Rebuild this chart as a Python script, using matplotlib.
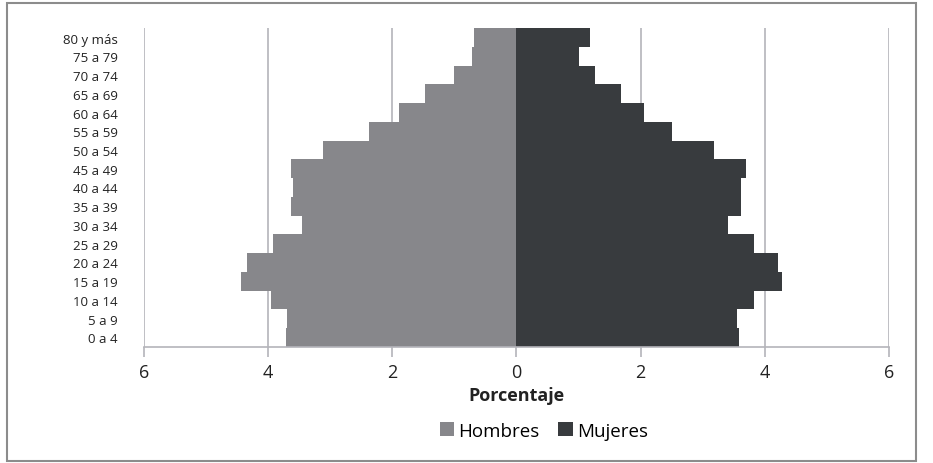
import matplotlib.pyplot as plt
from matplotlib.patches import Rectangle
import numpy as np

plt.rcParams['font.family'] = ['Open Sans', 'DejaVu Sans']

grupos = ['0 a 4', '5 a 9', '10 a 14', '15 a 19', '20 a 24', '25 a 29', '30 a 34',
          '35 a 39', '40 a 44', '45 a 49', '50 a 54', '55 a 59', '60 a 64',
          '65 a 69', '70 a 74', '75 a 79', '80 y más']
hombres = [3.72, 3.69, 3.95, 4.43, 4.34, 3.92, 3.46, 3.63, 3.60, 3.63,
           3.11, 2.38, 1.89, 1.47, 1.01, 0.72, 0.68]
mujeres = [3.58, 3.55, 3.82, 4.28, 4.21, 3.82, 3.41, 3.62, 3.62, 3.69,
           3.18, 2.51, 2.05, 1.69, 1.26, 1.01, 1.18]
ticks = [-6, -4, -2, 0, 2, 4, 6]

c_h = '#87878b'
c_m = '#383b3e'
c_grid = '#b4b4ba'

fig = plt.figure(figsize=(9.33, 4.64), dpi=100)
ax = fig.add_axes([0.1543, 0.2506, 0.7985, 0.6863])

y = np.arange(len(grupos))
ax.barh(y, -np.array(hombres), height=1.0, color=c_h, label='Hombres', zorder=2)
ax.barh(y, mujeres, height=1.0, color=c_m, label='Mujeres', zorder=2)

ax.set_xlim(-6, 6)
ax.set_ylim(-0.5, len(grupos) - 0.5)
ax.set_xticks(ticks)
ax.set_xticklabels([str(abs(t)) for t in ticks], fontsize=13, color='#222222')
ax.set_yticks(y)
ax.set_yticklabels(grupos, fontsize=9.5, color='#222222')
ax.tick_params(axis='y', length=0, pad=19)
ax.tick_params(axis='x', length=7, color=c_grid, width=1.2, pad=5)
ax.grid(axis='x', color=c_grid, linewidth=1.2, zorder=0)

for s in ['top', 'right', 'left']:
    ax.spines[s].set_visible(False)
ax.spines['bottom'].set_color(c_grid)
ax.spines['bottom'].set_linewidth(1.2)

ax.set_xlabel('Porcentaje', fontsize=13, fontweight='bold', color='#222222', labelpad=3)

fig.legend(loc='center', bbox_to_anchor=(0.583, 0.07), ncol=2, frameon=False,
           fontsize=13.5, handlelength=0.75, handleheight=0.75, handletextpad=0.25,
           columnspacing=1.0)

fig.patches.append(Rectangle((7 / 933, 2 / 464), 909 / 933, 458 / 464,
                             transform=fig.transFigure, fill=False,
                             edgecolor='#8c8c8c', linewidth=1.5))

fig.savefig('out.png', dpi=100)
